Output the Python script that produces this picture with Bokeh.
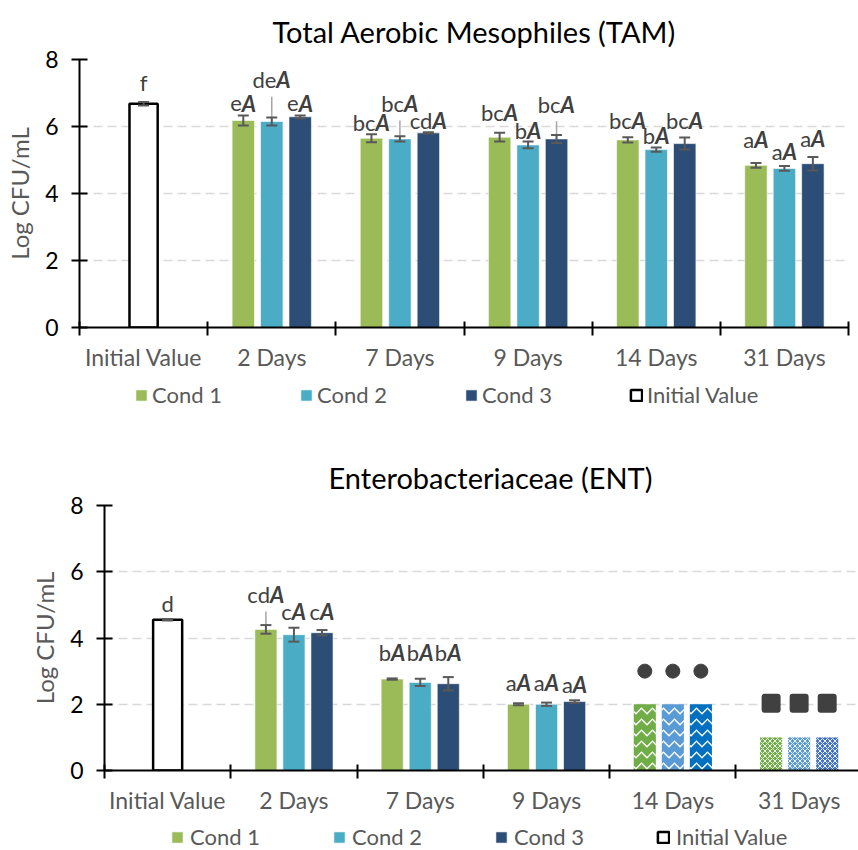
from bokeh.plotting import figure
from bokeh.models import (Range1d, FixedTicker, Whisker, TeeHead, ColumnDataSource,
                          LabelSet, Label, Legend, LegendItem)
from bokeh.core.properties import value
from bokeh.embed import file_html
from bokeh.resources import INLINE

# ---------------- data ----------------
categories = ["Initial Value", "2 Days", "7 Days", "9 Days", "14 Days", "31 Days"]
series_names = ["Cond 1", "Cond 2", "Cond 3"]
initial_name = "Initial Value"

# Total Aerobic Mesophiles (TAM)
tam_title = "Total Aerobic Mesophiles (TAM)"
tam_initial = 6.68
tam_initial_err = 0.05
tam_initial_label = "f"
tam_initial_label_y = 7.30
tam_cond1 = [6.18, 5.65, 5.68, 5.60, 4.84]
tam_cond2 = [6.15, 5.63, 5.45, 5.31, 4.75]
tam_cond3 = [6.29, 5.81, 5.63, 5.49, 4.89]
tam_cond1_err = [0.15, 0.12, 0.13, 0.08, 0.07]
tam_cond2_err = [0.12, 0.08, 0.10, 0.06, 0.07]
tam_cond3_err = [0.04, 0.02, 0.12, 0.18, 0.20]
tam_cond1_lab = ["eA", "bcA", "bcA", "bcA", "aA"]
tam_cond2_lab = ["deA", "bcA", "bA", "bA", "aA"]
tam_cond3_lab = ["eA", "cdA", "bcA", "bcA", "aA"]
tam_cond1_lab_y = [6.68, 6.13, 6.43, 6.18, 5.60]
tam_cond2_lab_y = [7.39, 6.68, 5.88, 5.73, 5.25]
tam_cond3_lab_y = [6.68, 6.18, 6.66, 6.18, 5.63]
tam_cond1_leader = [False, False, False, False, False]
tam_cond2_leader = [True, True, False, False, False]
tam_cond3_leader = [False, False, True, False, False]

# Enterobacteriaceae (ENT)
ent_title = "Enterobacteriaceae (ENT)"
ent_initial = 4.55
ent_initial_err = 0.02
ent_initial_label = "d"
ent_initial_label_y = 5.04
ent_cond1 = [4.26, 2.76, 2.00]
ent_cond2 = [4.10, 2.66, 2.00]
ent_cond3 = [4.16, 2.62, 2.08]
ent_cond1_err = [0.13, 0.02, 0.03]
ent_cond2_err = [0.21, 0.11, 0.05]
ent_cond3_err = [0.08, 0.20, 0.04]
ent_cond1_lab = ["cdA", "bA", "aA"]
ent_cond2_lab = ["cA", "bA", "aA"]
ent_cond3_lab = ["cA", "bA", "aA"]
ent_cond1_lab_y = [5.30, 3.55, 2.67]
ent_cond2_lab_y = [4.81, 3.55, 2.67]
ent_cond3_lab_y = [4.81, 3.55, 2.60]
ent_cond1_leader = [True, False, False]
ent_cond2_leader = [False, False, False]
ent_cond3_leader = [False, False, False]
# below-limit values (patterned bars) at 14 and 31 days
ent_day14 = [2.0, 2.0, 2.0]
ent_day31 = [1.0, 1.0, 1.0]

# ---------------- style ----------------
FONT = "Lato"
COLORS = ["#9BBB59", "#4BACC6", "#2C4D75"]
COLORS_14 = ["#70AD47", "#5B9BD5", "#0070C0"]
COLORS_31 = ["#70AD47", "#5B9BD5", "#4472C4"]
TXT = "#404040"
GRAY = "#595959"
LAB_SIZE = 22
OFFSETS = [-0.222, 0.0, 0.222]
BAR_W = 0.175
CW = {"a": 0.50, "b": 0.56, "c": 0.47, "d": 0.56, "e": 0.52, "f": 0.32}
A_W = 0.66
LEFT_PANEL = 112
NAN = float("nan")


def split_label(lbl):
    pre, suf = lbl[:-1], lbl[-1]
    w1 = sum(CW[c] for c in pre) * LAB_SIZE
    w2 = A_W * LAB_SIZE
    return pre, suf, (w1 - w2) / 2.0


def build(cfg):
    ncat = len(categories)
    p = figure(width=LEFT_PANEL + cfg["fw"] + cfg["br"], height=cfg["height"],
               x_range=Range1d(0, cfg["xmax"]), y_range=Range1d(0, 8),
               output_backend="svg", toolbar_location=None,
               min_border_left=LEFT_PANEL, min_border_right=cfg["br"],
               min_border_top=cfg["bt"], min_border_bottom=cfg["bb"])
    p.styles = {"margin-left": f"{cfg['frame_left'] - LEFT_PANEL}px"}
    p.outline_line_color = None
    p.background_fill_color = "white"
    p.xgrid.visible = False
    p.ygrid.ticker = FixedTicker(ticks=[2, 4, 6, 8])
    p.ygrid.grid_line_color = "#D9D9D9"
    p.ygrid.grid_line_dash = "9 5"
    p.ygrid.grid_line_width = 1.5

    # title
    p.title.text = cfg["title"]
    p.title.text_font = FONT
    p.title.text_font_size = "29px"
    p.title.text_font_style = "normal"
    p.title.text_color = "black"
    p.title.align = "left"
    p.title.offset = cfg["title_off"]
    p.title.standoff = cfg["title_standoff"]

    yax = p.yaxis[0]
    yax.ticker = FixedTicker(ticks=[0, 2, 4, 6, 8])
    yax.minor_tick_line_color = None
    yax.major_tick_in = 8
    yax.major_tick_out = 8
    yax.axis_line_width = 2
    yax.major_tick_line_width = 2
    yax.axis_line_color = "black"
    yax.major_label_text_font = FONT
    yax.major_label_text_font_size = "23px"
    yax.major_label_text_color = "black"
    yax.major_label_standoff = 13
    yax.axis_label = "Log CFU/mL"
    yax.axis_label_text_font = FONT
    yax.axis_label_text_font_size = "24px"
    yax.axis_label_text_font_style = "normal"
    yax.axis_label_text_color = GRAY
    yax.axis_label_standoff = 8

    # category axis: labels at centres, boundary ticks as minor ticks
    xax = p.xaxis[0]
    centres = [i + 0.5 for i in range(ncat)]
    xax.ticker = FixedTicker(ticks=centres, minor_ticks=list(range(ncat + 1)))
    xax.major_label_overrides = {c: name for c, name in zip(centres, categories)}
    xax.major_tick_in = 0
    xax.major_tick_out = 0
    xax.minor_tick_in = 6
    xax.minor_tick_out = 8
    xax.minor_tick_line_width = 2
    xax.minor_tick_line_color = "black"
    xax.axis_line_width = 2
    xax.axis_line_color = "black"
    xax.major_label_text_font = FONT
    xax.major_label_text_font_size = "23px"
    xax.major_label_text_color = GRAY
    xax.major_label_standoff = 7

    # initial value bar
    p.vbar(x=[0.5], top=[cfg["init"]], width=cfg["init_w"], fill_color="white",
           line_color="black", line_width=2.5)
    p.add_layout(Label(x=0.5, y=cfg["init_lab_y"], text=cfg["init_lab"], text_align="center",
                       text_baseline="middle", text_font=FONT, text_font_size=f"{LAB_SIZE}px",
                       text_color=TXT))

    wx, wu, wl = [0.5], [cfg["init"] + cfg["init_err"]], [cfg["init"] - cfg["init_err"]]
    lx, ly, lpre, lsuf, loff = [], [], [], [], []
    for k in range(3):
        vals, errs = cfg["vals"][k], cfg["errs"][k]
        xs = [i + 1.5 + OFFSETS[k] for i in range(len(vals))]
        p.vbar(x=xs, top=vals, width=BAR_W, fill_color=COLORS[k],
               line_color="white", line_width=1, line_alpha=0.6)
        wx += xs
        wu += [v + e for v, e in zip(vals, errs)]
        wl += [v - e for v, e in zip(vals, errs)]
        lead_x = [x for x, f in zip(xs, cfg["leaders"][k]) if f]
        lead_y0 = [y - 0.5 for y, f in zip(cfg["lab_y"][k], cfg["leaders"][k]) if f]
        lead_y1 = [v for v, f in zip(vals, cfg["leaders"][k]) if f]
        if lead_x:
            p.segment(x0=lead_x, y0=lead_y0, x1=lead_x, y1=lead_y1,
                      line_color="#A6A6A6", line_width=1.5)
        for x, y, s in zip(xs, cfg["lab_y"][k], cfg["labs"][k]):
            pre, suf, off = split_label(s)
            lx.append(x); ly.append(y); lpre.append(pre); lsuf.append(suf); loff.append(off)

    # patterned below-limit bars (ENT only)
    if cfg.get("lod"):
        d14, d31 = cfg["lod"]
        n0 = len(cfg["vals"][0])
        for k in range(3):
            x14 = n0 + 1.5 + OFFSETS[k]
            x31 = n0 + 2.5 + OFFSETS[k]
            p.vbar(x=[x14], top=[d14[k]], width=BAR_W, fill_color=COLORS_14[k], line_color=None,
                   hatch_pattern="horizontal_wave", hatch_color="white", hatch_scale=11,
                   hatch_weight=1.3)
            p.vbar(x=[x31], top=[d31[k]], width=BAR_W, fill_color=COLORS_31[k], line_color=None,
                   hatch_pattern="diagonal_cross", hatch_color="white", hatch_scale=5,
                   hatch_weight=0.9)
        p.scatter(x=[n0 + 1.5 + o for o in OFFSETS], y=[v + 1.0 for v in d14], size=14,
                  marker="circle", fill_color=TXT, line_color=TXT)
        p.scatter(x=[n0 + 2.5 + o for o in OFFSETS], y=[v + 1.03 for v in d31], size=13,
                  marker="square", fill_color=TXT, line_color=TXT, line_width=6,
                  line_join="round")

    wh = Whisker(source=ColumnDataSource(dict(base=wx, upper=wu, lower=wl)), base="base",
                 upper="upper", lower="lower", dimension="height", line_color=GRAY,
                 line_width=2, level="annotation")
    wh.upper_head = TeeHead(size=11, line_color=GRAY, line_width=2)
    wh.lower_head = TeeHead(size=11, line_color=GRAY, line_width=2)
    p.add_layout(wh)

    lsrc = ColumnDataSource(dict(x=lx, y=ly, pre=lpre, suf=lsuf, off=loff))
    p.add_layout(LabelSet(source=lsrc, x="x", y="y", text="pre", x_offset="off",
                          text_align="right", text_baseline="middle", text_font=value(FONT),
                          text_font_size=f"{LAB_SIZE}px", text_color=TXT))
    p.add_layout(LabelSet(source=lsrc, x="x", y="y", text="suf", x_offset="off",
                          text_align="left", text_baseline="middle", text_font=value(FONT),
                          text_font_size=f"{LAB_SIZE}px", text_color=TXT,
                          text_font_style="bold italic"))
    return p


def legend_row(height, vx, vy, standoff, lw, sp):
    # legend strip: proxy renderers hold NaN data, so only their legend swatches are drawn
    q = figure(width=858, height=height, x_range=Range1d(0, 1), y_range=Range1d(0, 1),
               output_backend="svg", toolbar_location=None, min_border=0,
               x_axis_type=None, y_axis_type=None)
    q.outline_line_color = None
    rs = [q.vbar(x=[NAN], top=[NAN], width=0.1, fill_color=c, line_color="white",
                 line_width=1, line_alpha=0.6) for c in COLORS]
    ri = q.vbar(x=[NAN], top=[NAN], width=0.1, fill_color="white",
                line_color="black", line_width=2.5)
    items = [LegendItem(label=n, renderers=[r]) for n, r in zip(series_names, rs)]
    items.append(LegendItem(label=initial_name, renderers=[ri]))
    leg = Legend(items=items, orientation="horizontal", location=(vx, vy),
                 glyph_width=14, glyph_height=14, label_standoff=standoff,
                 label_width=lw, spacing=sp, padding=0, margin=0,
                 border_line_color=None, background_fill_alpha=0, label_height=14,
                 label_text_font=FONT, label_text_font_size="22px", label_text_color=GRAY)
    q.add_layout(leg)
    return q


top = build(dict(
    height=381, xmax=6, fw=769, br=10, bt=59, bb=54, frame_left=79,
    init=tam_initial, init_err=tam_initial_err, init_w=0.22,
    init_lab=tam_initial_label, init_lab_y=tam_initial_label_y,
    vals=[tam_cond1, tam_cond2, tam_cond3], errs=[tam_cond1_err, tam_cond2_err, tam_cond3_err],
    labs=[tam_cond1_lab, tam_cond2_lab, tam_cond3_lab],
    lab_y=[tam_cond1_lab_y, tam_cond2_lab_y, tam_cond3_lab_y],
    leaders=[tam_cond1_leader, tam_cond2_leader, tam_cond3_leader],
    title=tam_title, title_off=193, title_standoff=22,
))
legend_top = legend_row(27, 134, 0, 4, 125, 22)

bottom = build(dict(
    height=412, xmax=5.97, fw=754, br=0, bt=97, bb=50, frame_left=104,
    init=ent_initial, init_err=ent_initial_err, init_w=0.23,
    init_lab=ent_initial_label, init_lab_y=ent_initial_label_y,
    vals=[ent_cond1, ent_cond2, ent_cond3], errs=[ent_cond1_err, ent_cond2_err, ent_cond3_err],
    labs=[ent_cond1_lab, ent_cond2_lab, ent_cond3_lab],
    lab_y=[ent_cond1_lab_y, ent_cond2_lab_y, ent_cond3_lab_y],
    leaders=[ent_cond1_leader, ent_cond2_leader, ent_cond3_leader],
    lod=(ent_day14, ent_day31),
    title=ent_title, title_off=224, title_standoff=22,
))
legend_bottom = legend_row(30, 170, 0, 6, 120, 22)

open("out.html", "w").write(file_html([top, legend_top, bottom, legend_bottom], INLINE))
